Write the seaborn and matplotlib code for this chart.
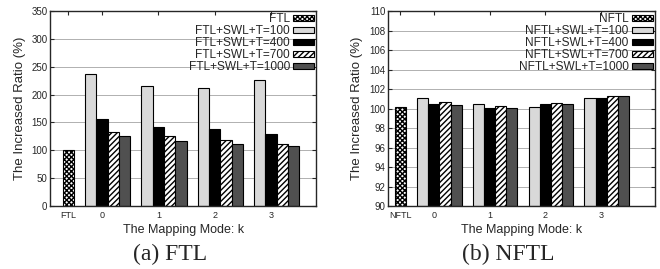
import pandas as pd
import numpy as np
import matplotlib
matplotlib.use('Agg')
import matplotlib.pyplot as plt
import seaborn as sns

sns.set_style('ticks')
plt.rcParams['font.family'] = ['Liberation Sans', 'DejaVu Sans']
plt.rcParams['hatch.linewidth'] = 1.0

# 数据：映射模式 k 与各阈值下的增长比例 (%)
modes = ['0', '1', '2', '3']
thresholds = ['T=100', 'T=400', 'T=700', 'T=1000']

ftl_base = 100
ftl_t100 = [237, 216, 212, 227]
ftl_t400 = [157, 142, 139, 130]
ftl_t700 = [133, 125, 119, 111]
ftl_t1000 = [125, 117, 112, 107]

nftl_base = 100.12
nftl_t100 = [101.10, 100.43, 100.19, 101.05]
nftl_t400 = [100.43, 100.05, 100.50, 101.08]
nftl_t700 = [100.64, 100.26, 100.53, 101.25]
nftl_t1000 = [100.39, 100.05, 100.50, 101.30]

colors = ['white', '#d9d9d9', 'black', 'white', '#505050']
hatches = ['xxxxxxx', '', '', '//////', '']


def build_df(name, base, series):
    rows = [{'pos': -2, 'value': base, 'series': name}]
    for j, vals in enumerate(series):
        for k, v in enumerate(vals):
            rows.append({'pos': 5 * k + j, 'value': v,
                         'series': f'{name}+SWL+{thresholds[j]}'})
    return pd.DataFrame(rows)


def draw(ax, name, base, series, ylim, yticks, xlim, caption):
    df = build_df(name, base, series)
    order = [name] + [f'{name}+SWL+{t}' for t in thresholds]
    sns.barplot(data=df, x='pos', y='value', hue='series', hue_order=order,
                native_scale=True, dodge=False, width=1.0,
                palette=dict(zip(order, colors)), edgecolor='black',
                linewidth=0.8, legend=False, ax=ax)
    for cont, h in zip(ax.containers, hatches):
        for p in cont:
            p.set_hatch(h)
            p.set_y(ylim[0])
            p.set_height(p.get_height() - ylim[0])
    ax.set_ylim(*ylim)
    ax.set_yticks(yticks)
    ax.set_xlim(*xlim)
    ax.set_xticks([-2] + [5 * k + 1 for k in range(len(modes))])
    ax.set_xticklabels([name] + modes, fontsize=6.5)
    ax.tick_params(axis='y', labelsize=7, pad=2)
    ax.tick_params(direction='in', top=True, right=True, length=3, width=0.8)
    ax.grid(axis='y', color='#b0b0b0', linewidth=0.7)
    ax.set_axisbelow(True)
    for s in ax.spines.values():
        s.set_linewidth(1.0)
    ax.set_xlabel('The Mapping Mode: k', fontsize=9, labelpad=3)
    ax.set_ylabel('The Increased Ratio (%)', fontsize=9.5, labelpad=4)
    leg = ax.legend(ax.containers, order, loc='upper right', frameon=False,
                    markerfirst=False, fontsize=8.6, labelspacing=0.0,
                    handlelength=1.75, handleheight=0.4, handletextpad=0.3,
                    borderaxespad=0.05, borderpad=0.1)
    for t in leg.get_texts():
        t.set_ha('right')
    pos = ax.get_position()
    fig.text((pos.x0 + pos.x1) / 2 - 0.02, 0.055, caption, ha='center',
             va='center', fontsize=17, family='Liberation Serif')


fig = plt.figure(figsize=(6.6, 2.69), dpi=100)
ax1 = fig.add_axes([0.076, 0.234, 0.403, 0.725])
ax2 = fig.add_axes([0.588, 0.234, 0.404, 0.725])

draw(ax1, 'FTL', ftl_base, [ftl_t100, ftl_t400, ftl_t700, ftl_t1000],
     (0, 350), np.arange(0, 351, 50), (-3.6, 20.0), '(a) FTL')
draw(ax2, 'NFTL', nftl_base, [nftl_t100, nftl_t400, nftl_t700, nftl_t1000],
     (90, 110), np.arange(90, 111, 2), (-3.1, 20.8), '(b) NFTL')

fig.savefig('out.png', dpi=100)
